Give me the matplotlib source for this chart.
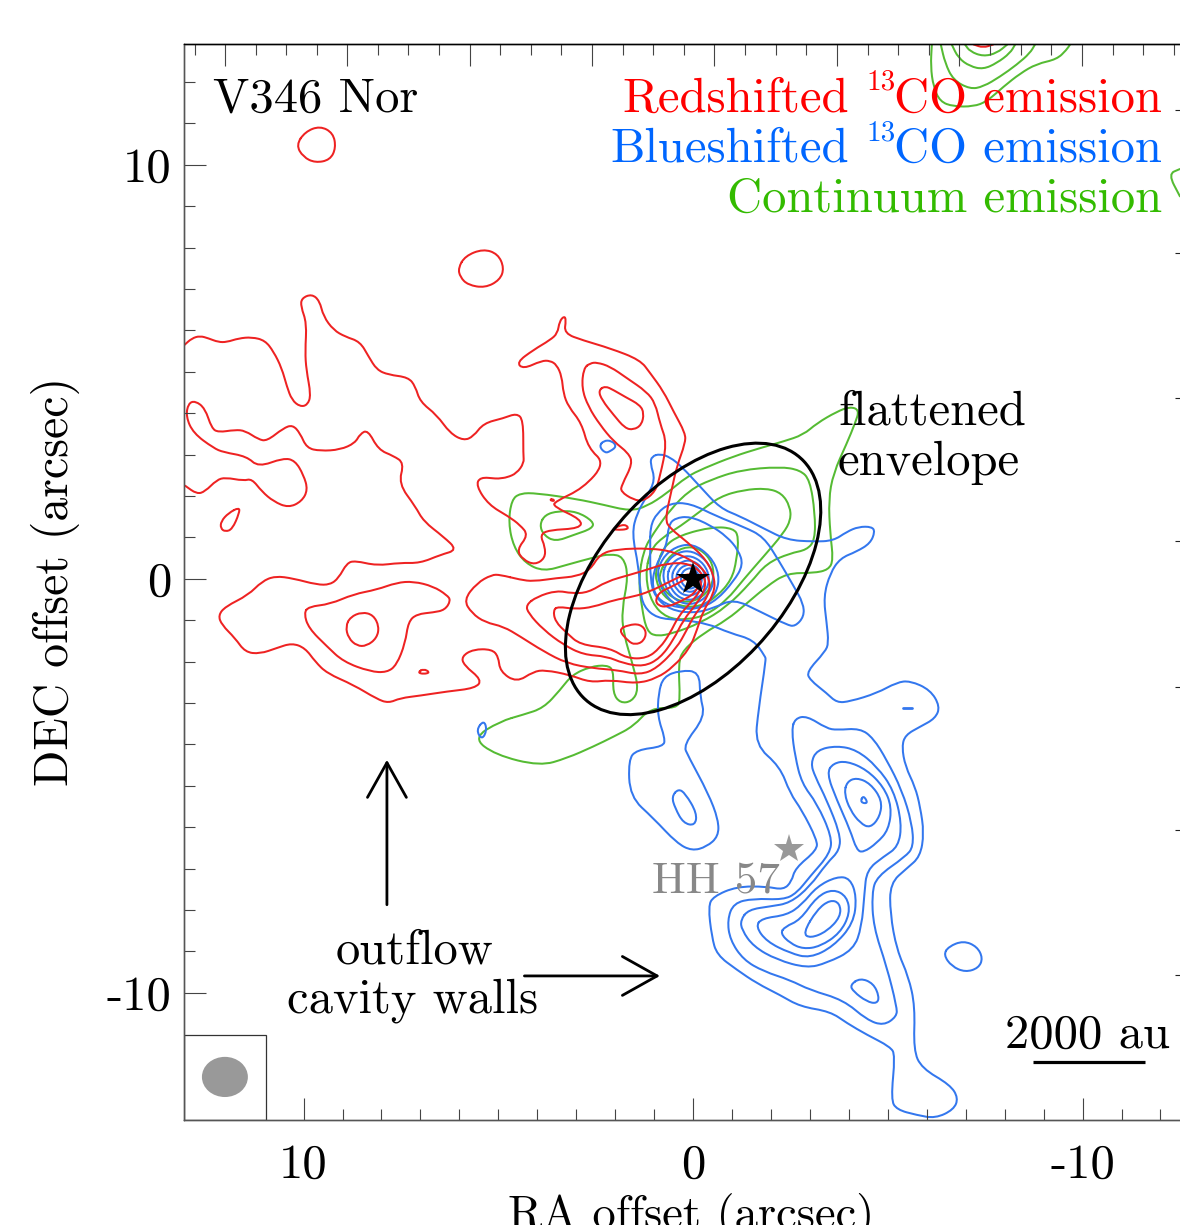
#!/usr/bin/env python
import matplotlib
matplotlib.use('Agg')
import matplotlib.pyplot as plt
from matplotlib.path import Path
from matplotlib.patches import PathPatch, Ellipse, Rectangle

# contours, (RA offset, DEC offset) in arcsec
red_outer = [(13.06,5.65),(12.87,5.81),(12.66,5.87),(12.44,5.81),(12.19,5.72),(11.97,5.72),(11.67,5.81),(11.33,5.84),
    (10.99,5.76),(10.77,5.49),(10.56,5.09),(10.43,4.65),(10.30,4.32),(10.09,4.16),(9.90,4.20),(9.81,4.44),(9.93,5.05),
    (9.96,5.49),(9.92,6.18),(10.07,6.58),(10.05,6.78),(9.79,6.88),(9.59,6.72),(9.49,6.34),(9.23,6.01),(8.93,5.85),
    (8.55,5.73),(8.33,5.37),(8.12,5.05),(7.82,4.93),(7.31,4.87),(7.13,4.65),(7.01,4.28),(6.58,3.96),(6.24,3.52),
    (5.89,3.34),(5.64,3.44),(5.38,3.76),(4.87,3.88),(4.53,4.00),(4.36,3.84),(4.36,3.00),(4.34,2.80),(4.53,2.55),
    (4.78,2.45),(4.955,2.43),(5.04,2.42),(5.47,2.46),(5.57,2.25),(5.25,1.79),(4.74,1.51),(4.44,1.30),(4.23,1.06),
    (4.53,0.70),(4.36,0.46),(4.06,0.34),(3.80,0.50),(3.80,0.78),(3.93,1.06),(3.71,1.18),(2.90,1.22),(2.86,1.43),
    (3.59,1.75),(3.54,1.87),(2.82,2.19),(2.26,2.79),(2.69,3.16),(2.86,3.76),(3.20,4.16),(3.33,4.48),(3.37,4.89),
    (3.50,5.17),(3.67,5.27),(3.89,5.27),(4.36,5.07),(4.53,5.23),(4.10,5.53),(3.67,5.77),(3.48,5.93),(3.43,6.22),
    (3.31,6.35),(3.26,6.26),(3.31,5.93),(2.82,5.76),(2.13,5.57),(1.36,5.29),(1.10,4.97),(0.76,4.53),(0.50,4.04),
    (0.20,3.52),(0.20,3.28),(0.42,2.71),(0.55,2.15),(0.72,1.43),(0.59,1.22),(0.16,0.90),(-0.35,0.46),(-0.57,-0.02),
    (-0.52,-0.39),(-0.27,-0.75),(-0.10,-1.23),(0.08,-1.67),(0.50,-2.12),(0.93,-2.40),(1.45,-2.53),(2.13,-2.44),
    (2.64,-2.50),(3.16,-2.32),(3.80,-2.20),(4.10,-2.24),(4.53,-2.50),(4.955,-2.24),(5.00,-1.87),(5.17,-1.70),
    (5.64,-1.70),(5.94,-1.87),(5.89,-2.08),(5.42,-2.44),(5.59,-2.64),(6.32,-2.72),(7.01,-2.82),(7.52,-2.88),
    (7.82,-3.00),(8.12,-2.90),(8.72,-2.56),(9.40,-2.28),(9.70,-2.00),(9.96,-1.67),(10.30,-1.55),(10.69,-1.67),
    (11.12,-1.81),(11.50,-1.77),(11.76,-1.43),(12.10,-1.11),(12.19,-0.88),(12.01,-0.67),(11.42,-0.39),(11.07,-0.06),
    (10.73,0.07),(10.26,0.01),(9.66,-0.14),(9.32,-0.14),(9.10,0.02),(8.89,0.38),(8.68,0.44),(8.12,0.32),(7.52,0.39),
    (7.01,0.38),(6.49,0.58),(6.05,0.70),(6.41,1.02),(6.92,1.39),(7.13,1.75),(7.56,2.30),(7.42,2.80),(7.69,2.97),
    (8.08,3.12),(8.35,3.60),(8.55,3.50),(8.68,3.28),(9.06,3.12),(9.57,3.09),(9.92,3.16),(10.09,3.52),(10.28,3.72),
    (10.52,3.64),(10.94,3.33),(11.16,3.37),(11.50,3.58),(11.76,3.60),(12.19,3.54),(12.36,3.64),(12.53,4.12),
    (12.78,4.30),(12.96,4.24),(13.02,3.92),(12.83,3.52),(12.31,3.16),(12.06,3.06),(11.46,2.96),(11.16,2.70),
    (10.52,2.92),(10.22,2.86),(10.00,2.51),(9.89,2.15),(10.05,1.87),(10.39,1.72),(10.77,1.87),(11.07,2.11),
    (11.33,2.42),(11.54,2.37),(12.01,2.45),(12.23,2.39),(12.53,2.11),(12.74,2.05),(13.04,2.25)]
red_ridge = [(2.64,5.21),(2.81,5.09),(2.86,4.61),(2.69,4.16),(2.39,3.72),(2.04,3.32),(1.66,3.04),(1.55,2.79),(1.83,2.27),
    (1.86,2.11),(1.53,1.91),(1.27,1.88),(0.97,2.11),(0.85,2.47),(0.67,3.28),(0.85,3.76),(0.97,4.24),(1.19,4.52),
    (1.70,4.85),(2.13,5.13),(2.47,5.23)]
red_ridge_in = [(2.26,4.66),(2.43,4.55),(2.34,4.32),(2.04,3.96),(1.75,3.64),(1.53,3.60),(1.32,3.72),(1.26,4.00),(1.36,4.20),
    (1.75,4.40),(2.04,4.56)]
red_top_left = [(10.19,10.48),(9.96,10.80),(9.58,10.94),(9.24,10.77),(9.17,10.41),(9.32,10.12),(9.70,10.05),(10.01,10.19)]
red_round = [(6.03,7.51),(5.85,7.80),(5.39,7.97),(5.01,7.85),(4.85,7.51),(4.96,7.22),(5.34,7.03),(5.78,7.10),(5.98,7.29)]
red_drop = [(11.65,1.73),(11.93,1.59),(12.12,1.39),(12.13,1.22),(12.01,1.14),(11.83,1.20),(11.65,1.59)]
red_west_in = [(8.92,-1.15),(8.80,-0.92),(8.50,-0.80),(8.21,-0.87),(8.06,-1.15),(8.12,-1.43),(8.38,-1.62),(8.63,-1.62),(8.85,-1.43)]
red_west = [(9.99,-0.83),(9.87,-0.67),(9.32,-0.61),(8.72,-0.37),(8.12,-0.26),(7.61,-0.09),(7.18,-0.06),(6.67,-0.18),(6.32,-0.39),
    (6.22,-0.52),(6.37,-0.75),(6.67,-0.81),(7.09,-0.85),(7.31,-1.03),(7.39,-1.55),(7.61,-2.08),(7.86,-2.26),(8.29,-2.24),
    (8.98,-2.00),(9.40,-1.63),(9.87,-1.19)]
red_tiny1 = [(7.07,-2.26),(6.92,-2.17),(6.75,-2.26),(6.92,-2.30)]
red_tiny2 = [(3.69,1.91),(3.59,1.93),(3.56,1.87)]
red_tiny3 = [(2.05,1.22),(1.75,1.33),(1.63,1.20),(2.00,1.18)]
red_core1 = [(4.955,0.10),(4.44,-0.02),(4.10,-0.06),(3.50,0.02),(2.99,0.06),(2.64,0.22),(2.39,0.60),(1.96,0.72),(1.10,0.74),
    (0.50,0.66),(-0.10,0.38),(-0.40,0.06),(-0.44,-0.26),(-0.27,-0.59),(-0.01,-0.91),(0.16,-1.23),(0.42,-1.67),(0.93,-2.16),
    (1.36,-2.32),(1.96,-2.20),(2.56,-2.16),(3.24,-2.04),(3.84,-1.75),(4.44,-1.39),(4.87,-1.15),(5.34,-1.05),(5.68,-0.83),
    (5.89,-0.51),(5.55,-0.10),(5.17,0.10)]
red_core2 = [(4.29,-0.63),(4.01,-0.43),(3.50,-0.28),(3.11,-0.35),(2.69,-0.33),(2.22,-0.06),(1.62,0.10),(1.19,0.22),(0.67,0.38),
    (0.08,0.38),(-0.31,0.06),(-0.31,-0.26),(-0.10,-0.59),(0.25,-0.99),(0.50,-1.47),(0.85,-1.92),(1.27,-2.12),(1.79,-2.04),
    (2.22,-1.87),(2.82,-1.83),(3.33,-1.59),(3.84,-1.23),(4.23,-0.83)]
red_core3 = [(3.59,-0.75),(3.46,-0.67),(3.03,-0.73),(2.56,-0.68),(2.04,-0.51),(1.53,-0.43),(1.10,-0.30),(0.67,-0.10),(0.16,0.14),
    (-0.18,0.06),(-0.22,-0.26),(0.08,-0.59),(0.38,-0.91),(0.59,-1.31),(0.85,-1.67),(1.19,-1.92),(1.70,-1.92),(2.13,-1.67),
    (2.90,-1.59),(3.24,-1.31),(3.54,-1.03)]
red_core4 = [(0.97,-0.51),(0.85,-0.31),(0.50,-0.17),(0.08,0.06),(-0.18,-0.06),(-0.05,-0.35),(0.33,-0.55),(0.67,-0.68),(0.89,-0.65)]
red_blob = [(1.92,-1.23),(1.66,-1.11),(1.36,-1.09),(1.19,-1.27),(1.27,-1.51),(1.49,-1.59),(1.66,-1.51)]
red_top = [(-7.20,12.91),(-7.45,12.83),(-7.71,12.91)]

blue_outer = [(1.06,2.96),(0.85,3.02),(0.59,2.94),(0.29,2.71),(-0.18,2.23),(-0.69,1.71),(-1.21,1.51),(-1.81,1.22),(-2.41,0.94),
    (-3.09,0.90),(-3.60,0.92),(-3.95,1.14),(-4.25,1.26),(-4.59,1.26),(-4.67,1.14),(-4.55,0.86),(-4.20,0.66),(-3.78,0.50),
    (-3.52,0.14),(-3.35,-0.43),(-3.43,-1.07),(-3.48,-1.55),(-3.39,-1.76),(-2.92,-2.24),(-3.00,-2.44),(-3.43,-2.76),
    (-3.69,-2.99),(-4.03,-2.96),(-4.72,-2.76),(-5.23,-2.50),(-5.57,-2.46),(-6.09,-2.68),(-6.34,-3.08),(-6.22,-3.37),
    (-5.83,-3.57),(-5.45,-3.77),(-5.36,-4.05),(-5.45,-4.53),(-5.70,-5.02),(-5.83,-5.50),(-5.93,-6.14),(-5.83,-6.71),
    (-5.49,-6.99),(-5.06,-7.35),(-5.06,-8.08),(-5.23,-8.96),(-5.53,-9.60),(-5.70,-10.33),(-5.66,-11.38),(-5.87,-11.82),
    (-6.60,-12.22),(-6.81,-12.54),(-6.69,-12.82),(-6.22,-13.03),(-5.74,-12.95),(-5.23,-12.82),(-5.08,-12.58),(-5.19,-11.50),
    (-5.06,-11.30),(-4.46,-11.01),(-3.95,-10.73),(-3.52,-10.45),(-2.75,-10.33),(-2.23,-10.05),(-1.64,-9.77),(-1.12,-9.44),
    (-0.61,-9.08),(-0.48,-8.64),(-0.39,-7.91),(-0.52,-7.67),(-1.12,-7.43),(-1.89,-7.43),(-2.32,-7.51),(-2.53,-7.31),
    (-2.62,-6.99),(-3.18,-6.55),(-3.18,-6.30),(-2.79,-5.58),(-2.49,-5.18),(-2.23,-4.53),(-1.59,-4.01),(-1.68,-3.15),
    (-1.87,-1.96),(-1.85,-1.87),(-1.55,-1.47),(-0.95,-1.31),(-0.35,-1.07),(0.33,-0.99),(0.93,-0.95),(1.27,-0.67),(1.36,-0.26),
    (1.40,0.30),(1.57,1.10),(1.44,1.59),(1.19,1.99),(0.97,2.39),(1.10,2.79)]
blue_lobe = [(0.89,-2.76),(0.76,-2.36),(0.33,-2.21),(-0.16,-2.24),(-0.18,-2.84),(-0.31,-3.33),(0.25,-4.01),(0.12,-4.29),(-0.39,-5.18),
    (-0.65,-5.82),(-0.65,-6.22),(-0.35,-6.47),(0.03,-6.57),(0.42,-6.38),(1.02,-5.78),(1.62,-5.26),(1.66,-4.37),(1.45,-4.13),
    (0.76,-4.05),(0.72,-3.85),(0.91,-3.33)]
blue_lobe_in = [(0.55,-5.26),(0.38,-5.07),(0.20,-5.18),(-0.10,-5.66),(-0.05,-5.96),(0.25,-5.90),(0.46,-5.54)]
blue_south1 = [(-2.53,-3.65),(-2.62,-3.37),(-2.92,-3.31),(-3.43,-3.61),(-3.69,-3.65),(-4.29,-3.61),(-4.63,-3.85),(-4.97,-4.37),
    (-5.36,-5.10),(-5.62,-5.90),(-5.66,-6.47),(-5.45,-6.71),(-4.72,-7.19),(-4.59,-7.59),(-4.63,-8.40),(-4.97,-9.36),(-5.23,-10.33),
    (-5.23,-10.57),(-4.89,-10.79),(-4.46,-10.65),(-3.86,-10.17),(-3.00,-9.93),(-2.49,-9.69),(-1.81,-9.48),(-1.29,-9.20),
    (-0.95,-8.72),(-0.88,-8.24),(-1.04,-7.83),(-1.55,-7.72),(-2.32,-7.75),(-2.66,-7.59),(-3.00,-7.19),(-3.52,-6.63),(-3.56,-6.22),
    (-3.18,-5.42),(-2.79,-4.94),(-2.62,-4.29)]
blue_south2 = [(-1.22,-8.24),(-1.42,-7.99),(-1.98,-7.91),(-2.49,-7.83),(-3.00,-7.43),(-3.43,-6.87),(-3.77,-6.55),(-3.77,-6.14),
    (-3.43,-5.34),(-3.13,-4.77),(-3.02,-4.45),(-3.18,-4.13),(-3.69,-4.03),(-4.20,-4.13),(-4.72,-4.53),(-5.15,-5.10),(-5.36,-5.90),
    (-5.27,-6.47),(-4.89,-6.71),(-4.46,-7.03),(-4.40,-7.59),(-4.33,-8.40),(-4.12,-8.96),(-3.43,-9.28),(-2.92,-9.40),(-2.15,-9.20),
    (-1.55,-8.88),(-1.25,-8.48)]
blue_north1 = [(-3.43,-4.69),(-3.60,-4.45),(-3.95,-4.40),(-4.46,-4.61),(-4.89,-5.02),(-5.10,-5.50),(-5.02,-6.06),(-4.72,-6.38),
    (-4.37,-6.61),(-4.20,-6.55),(-4.03,-6.06),(-3.69,-5.34)]
blue_north2 = [(-3.88,-5.18),(-3.95,-4.90),(-4.20,-4.80),(-4.55,-4.94),(-4.85,-5.34),(-4.80,-5.74),(-4.55,-6.02),(-4.29,-5.90),(-4.03,-5.58)]
blue_north3 = [(-4.29,-5.40),(-4.37,-5.22),(-4.50,-5.43)]
blue_south3 = [(-1.61,-8.40),(-1.76,-8.20),(-2.41,-8.12),(-2.79,-7.87),(-3.18,-7.43),(-3.69,-7.19),(-4.03,-7.23),(-4.20,-7.67),
    (-4.12,-8.32),(-3.60,-8.88),(-3.00,-9.16),(-2.49,-9.04),(-1.89,-8.76)]
blue_south4 = [(-2.24,-8.56),(-2.36,-8.40),(-2.75,-8.24),(-3.18,-7.67),(-3.60,-7.49),(-3.95,-7.67),(-4.03,-8.08),(-3.77,-8.56),
    (-3.26,-8.88),(-2.83,-8.94),(-2.49,-8.80)]
blue_south5 = [(-2.82,-8.56),(-3.18,-7.99),(-3.52,-7.75),(-3.77,-7.83),(-3.79,-8.16),(-3.43,-8.52),(-3.01,-8.68)]
blue_tail = [(-4.03,-9.81),(-4.29,-9.64),(-4.63,-9.77),(-4.78,-10.09),(-4.72,-10.26),(-4.46,-10.21),(-4.12,-9.97)]
blue_round = [(-6.43,-9.08),(-6.56,-8.88),(-6.94,-8.74),(-7.29,-8.88),(-7.44,-9.16),(-7.33,-9.40),(-6.99,-9.50),(-6.64,-9.36)]
blue_dash = [(-5.40,-3.13),(-5.62,-3.13)]
blue_small1 = [(2.41,3.20),(2.30,3.34),(2.09,3.34),(1.96,3.20),(2.13,3.08),(2.26,3.04)]
blue_small2 = [(5.57,-3.65),(5.37,-3.41),(5.29,-3.65),(5.42,-3.89)]
blue_star1 = [(1.10,0.78),(1.10,1.26),(0.93,1.59),(0.59,1.83),(0.08,1.83),(-0.61,1.51),(-1.29,1.26),(-1.81,1.02),(-2.19,0.46),
    (-2.58,-0.17),(-2.83,-0.59),(-2.85,-0.91),(-2.62,-1.15),(-2.41,-1.11),(-1.72,-0.79),(-1.04,-0.48),(-0.52,-0.71),(-0.01,-0.83),
    (0.59,-0.75),(0.98,-0.43),(1.10,-0.02)]
blue_star2 = [(0.68,0.78),(0.63,1.30),(0.46,1.47),(0.08,1.51),(-0.44,1.30),(-0.87,1.02),(-1.16,0.70),(-1.29,0.34),(-1.04,-0.06),
    (-0.61,-0.51),(-0.18,-0.71),(0.33,-0.71),(0.85,-0.55),(1.06,-0.19),(0.98,0.30)]
blue_ring1 = [(0.95,0.05),(0.80,0.50),(0.45,0.78),(0.00,0.85),(-0.45,0.55),(-0.68,0.10),(-0.60,-0.35),(-0.25,-0.68),(0.20,-0.75),(0.65,-0.50)]
blue_ring2 = [(0.80,0.03),(0.68,0.42),(0.38,0.65),(0.02,0.68),(-0.35,0.45),(-0.55,0.05),(-0.45,-0.32),(-0.15,-0.58),(0.22,-0.62),(0.58,-0.42)]
blue_ring3 = [(0.68,0.02),(0.58,0.34),(0.33,0.53),(0.03,0.56),(-0.28,0.37),(-0.43,0.04),(-0.35,-0.27),(-0.10,-0.48),(0.20,-0.52),(0.50,-0.35)]
blue_ring4 = [(0.56,0.02),(0.48,0.27),(0.28,0.43),(0.03,0.45),(-0.22,0.30),(-0.33,0.03),(-0.26,-0.22),(-0.06,-0.38),(0.18,-0.42),(0.42,-0.28)]
blue_ring5 = [(0.45,0.01),(0.38,0.21),(0.22,0.33),(0.02,0.35),(-0.16,0.23),(-0.24,0.02),(-0.19,-0.17),(-0.04,-0.30),(0.14,-0.32),(0.33,-0.22)]
blue_ring6 = [(0.33,0.00),(0.28,0.16),(0.16,0.25),(0.02,0.26),(-0.11,0.17),(-0.17,0.01),(-0.13,-0.13),(-0.02,-0.22),(0.11,-0.24),(0.25,-0.16)]

green_outer = [(4.955,-3.44),(4.36,-3.28),(3.84,-3.12),(3.41,-2.68),(3.11,-2.32),(2.64,-2.12),(2.22,-2.08),(2.04,-2.20),(2.06,-2.76),
    (1.87,-3.00),(1.57,-2.96),(1.40,-2.68),(1.53,-2.12),(1.79,-1.31),(1.83,-0.75),(1.66,0.06),(1.79,0.54),(2.13,0.60),(2.47,0.54),
    (3.24,0.34),(3.84,0.18),(4.31,0.38),(4.61,0.78),(4.74,1.35),(4.66,1.91),(4.44,2.07),(4.01,2.07),(2.99,1.93),(2.30,1.79),
    (1.62,1.64),(1.19,1.75),(0.67,2.07),(0.16,2.47),(-0.27,2.67),(-1.04,2.96),(-1.72,3.16),(-2.32,3.32),(-2.83,3.48),(-3.18,3.76),
    (-3.69,4.04),(-4.03,4.16),(-4.27,4.08),(-4.16,3.76),(-3.95,3.28),(-3.60,2.55),(-3.48,1.91),(-3.52,1.10),(-3.60,0.46),(-3.48,0.22),
    (-3.09,0.14),(-2.41,0.14),(-1.89,-0.18),(-1.38,-0.59),(-0.87,-0.99),(-0.27,-1.31),(0.25,-1.71),(0.38,-2.04),(0.33,-2.92),
    (0.42,-3.12),(1.10,-3.12),(1.53,-3.56),(2.04,-3.81),(2.56,-4.05),(3.24,-4.33),(3.93,-4.52),(5.08,-4.25),(5.65,-3.84)]
green_west = [(3.94,1.31),(3.80,1.55),(3.46,1.64),(2.99,1.63),(2.56,1.39),(2.58,1.22),(3.07,1.06),(3.54,0.90),(3.84,1.06)]
green_env1 = [(1.27,0.70),(1.40,-0.02),(1.32,-0.67),(1.19,-1.27),(0.93,-1.39),(0.50,-1.31),(-0.18,-1.07),(-0.87,-0.67),(-1.47,-0.10),
    (-1.89,0.38),(-2.49,0.62),(-2.92,0.70),(-3.13,0.94),(-3.13,1.59),(-3.00,2.39),(-2.75,2.63),(-2.23,2.71),(-1.21,2.63),(-0.44,2.39),
    (0.08,2.15),(0.59,1.67),(1.02,1.10)]
green_env2 = [(1.10,0.70),(1.23,0.06),(1.06,-0.59),(0.67,-0.95),(0.16,-0.99),(-0.35,-0.87),(-0.87,-0.51),(-1.29,-0.02),(-1.81,0.54),
    (-2.32,1.10),(-2.51,1.43),(-2.49,1.75),(-2.28,2.07),(-1.89,2.19),(-1.29,2.15),(-0.69,1.99),(-0.18,1.63),(0.33,1.27),(0.76,1.02)]
green_env3 = [(0.93,0.30),(0.76,0.78),(0.33,1.06),(-0.52,1.26),(-1.04,1.22),(-1.17,1.02),(-1.12,0.46),(-0.99,-0.02),(-0.61,-0.43),
    (-0.18,-0.67),(0.33,-0.67),(0.76,-0.43),(0.97,-0.02)]
green_env4 = [(0.89,0.06),(0.67,0.50),(0.25,0.78),(-0.18,0.74),(-0.52,0.38),(-0.52,-0.10),(-0.27,-0.43),(0.16,-0.59),(0.59,-0.43),(0.80,-0.18)]
green_top1 = [(-6.13,12.91),(-6.10,12.38),(-6.17,11.89),(-6.34,11.53),(-6.68,11.41),(-7.20,11.41),(-7.54,11.53),(-7.97,11.89),(-8.40,12.21),
    (-8.82,12.44),(-9.34,12.55),(-9.59,12.78),(-9.68,12.91)]
green_top2 = [(-6.36,12.91),(-6.47,12.46),(-6.68,12.05),(-7.11,11.83),(-7.45,11.89),(-7.88,12.13),(-8.31,12.42),(-8.65,12.70),(-8.78,12.91)]
green_top3 = [(-6.64,12.91),(-6.81,12.58),(-7.11,12.38),(-7.45,12.31),(-7.80,12.46),(-8.14,12.70),(-8.27,12.91)]
green_top4 = [(-6.98,12.91),(-7.11,12.74),(-7.45,12.62),(-7.80,12.70),(-8.07,12.91)]
green_edge = [(-12.5,9.90),(-12.2,9.78),(-12.5,9.24)]

red_closed = [red_ridge, red_ridge_in, red_top_left, red_round, red_drop, red_west_in, red_west, red_tiny1, red_tiny2, red_tiny3,
              red_core1, red_core2, red_core3, red_core4, red_blob]
red_open = [red_outer, red_top]
blue_closed = [blue_outer, blue_lobe, blue_lobe_in, blue_south1, blue_south2, blue_north1, blue_north2, blue_north3, blue_south3,
               blue_south4, blue_south5, blue_tail, blue_round, blue_small1, blue_small2, blue_star1, blue_star2,
               blue_ring1, blue_ring2, blue_ring3, blue_ring4, blue_ring5, blue_ring6]
blue_open = [blue_dash]
green_closed = [green_outer, green_west, green_env1, green_env2, green_env3, green_env4]
green_open = [green_top1, green_top2, green_top3, green_top4, green_edge]

# ticks
x_major = [10, 0, -10]
x_minor = [9, 8, 7, 6, 5, 4, 3, 2, 1, -1, -2, -3, -4, -5, -6, -7, -8, -9, -11, -12]
y_major = [10, 0, -10]
y_minor = [12, 11, 9, 8, 7, 6, 5, 4, 3, 2, 1, -1, -2, -3, -4, -5, -6, -7, -8, -9]
top_major = [12.02, 8.88, 5.73, 2.59, -0.55, -3.70, -6.84, -9.98]
top_minor = [12.80, 11.23, 10.45, 9.66, 8.09, 7.31, 6.52, 4.95, 4.16, 3.38, 1.80, 1.02, 0.23, -1.34, -2.13, -2.91,
             -4.48, -5.27, -6.05, -7.63, -8.41, -9.20, -10.77, -11.55, -12.34]
right_ticks = [11.33, 7.87, 4.37, 0.92, -2.61, -6.06, -9.57]

RED = '#ee2222'
BLUE = '#3377ee'
GREEN = '#55bb33'
FS = 35

plt.rcParams['font.family'] = ['cmr10', 'DejaVu Serif']
plt.rcParams['axes.formatter.use_mathtext'] = True

W, H = 1180., 1225.
fig = plt.figure(figsize=(11.8, 12.25), dpi=100)
ax = fig.add_axes([184/W, (H-1120)/H, (1185-184)/W, (1120-44)/H])
xlim = (13.07, -12.63)
ylim = (-13.07, 12.92)


def contour(pts, color, closed=True, lw=1.45):
    # draw through the read points as a smooth curve
    if closed:
        pts = list(pts) + [pts[0], pts[1]]
    mids = [((a[0]+b[0])/2., (a[1]+b[1])/2.) for a, b in zip(pts[:-1], pts[1:])]
    if closed:
        verts = [mids[0]]
        codes = [Path.MOVETO]
    else:
        verts = [pts[0], mids[0]]
        codes = [Path.MOVETO, Path.LINETO]
    for p, m in zip(pts[1:-1], mids[1:]):
        verts += [p, m]
        codes += [Path.CURVE3, Path.CURVE3]
    if not closed:
        verts.append(pts[-1])
        codes.append(Path.LINETO)
    ax.add_patch(PathPatch(Path(verts, codes), fc='none', ec=color, lw=lw, capstyle='round', joinstyle='round'))


for c in green_closed:
    contour(c, GREEN)
for c in green_open:
    contour(c, GREEN, closed=False)
for c in blue_closed:
    contour(c, BLUE)
for c in blue_open:
    contour(c, BLUE, closed=False, lw=2.0)
for c in red_closed:
    contour(c, RED)
for c in red_open:
    contour(c, RED, closed=False)

ax.add_patch(Ellipse((0, 0), 8.04, 4.62, angle=135, fc='none', ec='k', lw=2.2, zorder=4))
ax.plot([0], [0], '*', color='k', ms=25, mew=0, zorder=5)
ax.plot([-2.46], [-6.52], '*', color='#999999', ms=22, mew=0, zorder=5)

# beam
ax.add_patch(Rectangle((10.96, -13.07), 2.11, 2.06, fc='none', ec='#333333', lw=0.9))
ax.add_patch(Ellipse((12.02, -12.03), 1.18, 0.97, fc='#999999', ec='none'))

ax.text(12.32, 11.28, 'V346 Nor', fontsize=FS, color='k')
ax.text(-4.0, 11.28, 'Redshifted', fontsize=FS, color='#ff0000', ha='right')
ax.text(-4.45, 11.81, '13', fontsize=21, color='#ff0000')
ax.text(-12.04, 11.28, 'CO emission', fontsize=FS, color='#ff0000', ha='right')
ax.text(-4.0, 10.07, 'Blueshifted', fontsize=FS, color='#0066ff', ha='right')
ax.text(-4.45, 10.60, '13', fontsize=21, color='#0066ff')
ax.text(-12.04, 10.07, 'CO emission', fontsize=FS, color='#0066ff', ha='right')
ax.text(-12.04, 8.86, 'Continuum emission', fontsize=FS, color='#33bb00', ha='right')
ax.text(-3.72, 3.72, 'flattened', fontsize=FS, color='k')
ax.text(-3.72, 2.51, 'envelope', fontsize=FS, color='k')
ax.text(7.14, -9.28, 'outflow', fontsize=FS, color='k', ha='center')
ax.text(7.19, -10.48, 'cavity walls', fontsize=FS, color='k', ha='center')
ax.text(-0.59, -7.58, 'HH 57', fontsize=32.5, color='#888888', ha='center')
ax.text(-10.12, -11.32, '2000 au', fontsize=FS, color='k', ha='center')
ax.plot([-8.73, -11.6], [-11.67, -11.67], color='k', lw=2.3, solid_capstyle='butt')

arrow = dict(arrowstyle='->,head_length=2.5,head_width=1.4', color='k', lw=2.0, shrinkA=0, shrinkB=0)
ax.annotate('', xy=(7.86, -4.37), xytext=(7.86, -7.87), arrowprops=arrow)
ax.annotate('', xy=(0.85, -9.59), xytext=(4.33, -9.59), arrowprops=arrow)

ax.set_xlim(xlim)
ax.set_ylim(ylim)
ax.set_xticks(x_major)
ax.set_xticks(x_minor, minor=True)
ax.set_yticks(y_major)
ax.set_yticks(y_minor, minor=True)
ax.set_xticklabels(['10', '0', '-10'])
ax.set_yticklabels(['10', '0', '-10'])
ax.tick_params(which='major', direction='in', length=16, width=0.8, color='#444444', labelsize=FS)
ax.tick_params(which='minor', direction='in', length=8, width=0.8, color='#444444')
ax.tick_params(axis='x', which='major', pad=17)
ax.tick_params(axis='y', which='major', pad=9)

top = ax.twiny()
top.set_xlim(xlim)
top.set_xticks(top_major)
top.set_xticks(top_minor, minor=True)
top.set_xticklabels([])
top.tick_params(which='major', direction='in', length=16, width=0.8, color='#444444')
top.tick_params(which='minor', direction='in', length=8, width=0.8, color='#444444')

right = ax.twinx()
right.set_ylim(ylim)
right.set_yticks(right_ticks)
right.set_yticklabels([])
right.tick_params(direction='in', length=7.5, width=0.8, color='#222222')

for a in (ax, top, right):
    a.spines['left'].set_color('#555555')
    a.spines['bottom'].set_color('#555555')
    a.spines['top'].set_color('k')
    for s in a.spines.values():
        s.set_linewidth(0.9)

fig.text(691/W, (H-1228)/H, 'RA offset (arcsec)', fontsize=33.5, ha='center', va='baseline')
fig.text(55/W, (H-581)/H, 'DEC offset (arcsec)', fontsize=34.4, ha='center', va='center', rotation=90)

plt.savefig('out.png', dpi=100)
